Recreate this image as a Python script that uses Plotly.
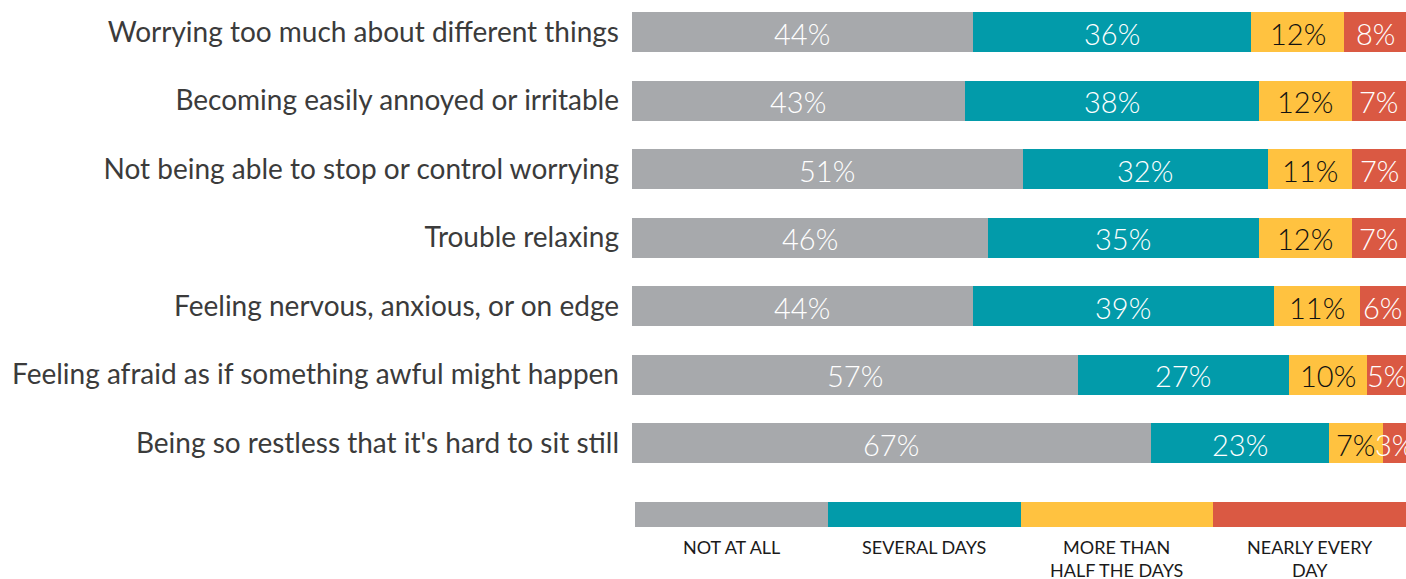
import plotly.graph_objects as go

categories = [
    "Worrying too much about different things",
    "Becoming easily annoyed or irritable",
    "Not being able to stop or control worrying",
    "Trouble relaxing",
    "Feeling nervous, anxious, or on edge",
    "Feeling afraid as if something awful might happen",
    "Being so restless that it's hard to sit still",
]
series_names = ["NOT AT ALL", "SEVERAL DAYS", "MORE THAN<br>HALF THE DAYS", "NEARLY EVERY<br>DAY"]
not_at_all = [44, 43, 51, 46, 44, 57, 67]
several_days = [36, 38, 32, 35, 39, 27, 23]
more_than_half = [12, 12, 11, 12, 11, 10, 7]
nearly_every_day = [8, 7, 7, 7, 6, 5, 3]

colors = ["#A7A9AC", "#029BAA", "#FFC240", "#DA5943"]
text_colors = ["#FFFFFF", "#FFFFFF", "#111111", "#FFFFFF"]
series = [not_at_all, several_days, more_than_half, nearly_every_day]

W, H = 1406, 579
LABEL_FONT = "Source Sans Pro, Lato, Noto Sans, sans-serif"

row_totals = [sum(v) for v in zip(*series)]

fig = go.Figure()
cum = [0.0] * len(categories)
for vals, col, tcol, name in zip(series, colors, text_colors, series_names):
    fig.add_trace(go.Bar(
        y=categories, x=vals, orientation="h", name=name,
        marker=dict(color=col, line=dict(width=0)),
        textposition="none", showlegend=False, hoverinfo="skip",
        xaxis="x", yaxis="y",
    ))
    for cat, c, v, t in zip(categories, cum, vals, row_totals):
        fig.add_annotation(
            x=100 * (c + v / 2) / t, xref="x", y=cat, yref="y", yshift=-1,
            text=f"{v}%", showarrow=False, xanchor="center", yanchor="middle",
            font=dict(color=tcol, size=29, family=LABEL_FONT, weight=300),
        )
    cum = [c + v for c, v in zip(cum, vals)]

# legend strip
for i, (col, name) in enumerate(zip(colors, series_names)):
    fig.add_trace(go.Bar(
        y=[0], x=[1], orientation="h", marker=dict(color=col, line=dict(width=0)),
        showlegend=False, hoverinfo="skip", xaxis="x2", yaxis="y2", width=1,
    ))
    fig.add_annotation(
        x=(i + 0.5) * 100 / len(series_names), xref="x2",
        y=(H - 534) / H, yref="paper", yanchor="top", xanchor="center",
        text=name, showarrow=False, align="center",
        font=dict(size=18, color="#1a1a1a", family=LABEL_FONT),
    )

fig.update_layout(
    width=W, height=H,
    margin=dict(l=632, r=0, t=0, b=0, autoexpand=False),
    barmode="stack", barnorm="percent", bargap=1 - 40 / 68.5,
    paper_bgcolor="white", plot_bgcolor="white",
    xaxis=dict(range=[0, 100], visible=False, domain=[0, 1], fixedrange=True),
    yaxis=dict(
        domain=[(H - 480) / H, 1], range=[(480 - 32) / 68.5, -32 / 68.5],
        categoryorder="array", categoryarray=categories,
        showgrid=False, zeroline=False, showline=False, ticks="",
        ticklabelstandoff=12,
        tickfont=dict(size=28, color="#3b3b3b", family=LABEL_FONT),
    ),
    xaxis2=dict(range=[0, 100], visible=False, domain=[3 / 774, 1], anchor="y2"),
    yaxis2=dict(range=[-0.5, 0.5], visible=False, domain=[(H - 527) / H, (H - 502) / H], anchor="x2"),
)

fig.write_html(
    "out.html",
    config={"displayModeBar": False},
    post_script="document.body.style.margin='0';document.body.style.overflow='hidden';",
)
